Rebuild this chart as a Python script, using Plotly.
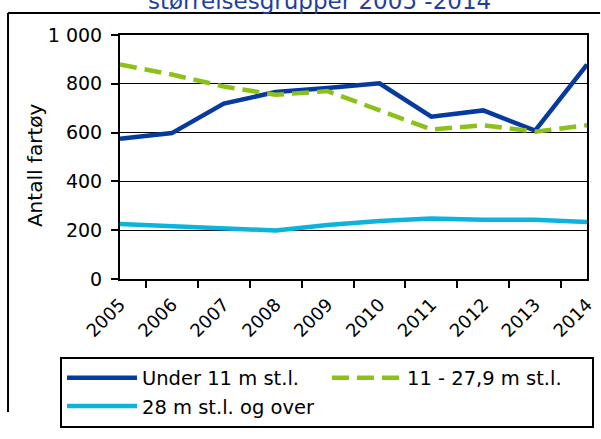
import plotly.graph_objects as go

years = ["2005", "2006", "2007", "2008", "2009", "2010", "2011", "2012", "2013", "2014"]
under_11 = [575, 598, 719, 766, 783, 802, 665, 691, 608, 879]
mid_11_279 = [879, 838, 789, 755, 770, 693, 613, 630, 604, 630]
over_28 = [225, 215, 206, 199, 221, 238, 248, 243, 243, 234]
names = ["Under 11 m st.l.", "11 - 27,9 m st.l.", "28 m st.l. og over"]
y_ticks = [0, 200, 400, 600, 800, 1000]
y_ticktext = ["0", "200", "400", "600", "800", "1 000"]
title_text = "størrelsesgrupper 2005 -2014"
y_title = "Antall fartøy"

FONT = "DejaVu Sans"

fig = go.Figure()
fig.add_trace(go.Scatter(x=years, y=under_11, name=names[0], mode="lines",
                         line=dict(color="#063A9C", width=4.5)))
fig.add_trace(go.Scatter(x=years, y=mid_11_279, name=names[1], mode="lines",
                         line=dict(color="#8CC11A", width=4.5, dash="17px,8px")))
fig.add_trace(go.Scatter(x=years, y=over_28, name=names[2], mode="lines",
                         line=dict(color="#0AB4DC", width=4.5)))

fig.update_layout(
    width=601, height=439,
    margin=dict(l=120, r=14, t=35, b=143),
    paper_bgcolor="white", plot_bgcolor="white",
    font=dict(family=FONT, size=19, color="black"),
    showlegend=True,
    legend=dict(orientation="h", x=-0.1285, y=-0.318, xanchor="left", yanchor="top",
                bordercolor="black", borderwidth=2, bgcolor="white",
                font=dict(family=FONT, size=19.5, color="black"),
                itemwidth=70, entrywidth=180, entrywidthmode="pixels", tracegroupgap=0),
)

fig.update_xaxes(type="category", tickson="boundaries", ticks="outside", ticklen=7,
                 tickwidth=2, tickcolor="black", tickangle=-45,
                 tickfont=dict(family=FONT, size=18, color="black"),
                 showline=True, linecolor="black", linewidth=2, mirror=True,
                 showgrid=False, ticklabelstandoff=6, automargin=False)
fig.update_yaxes(range=[0, 1000], tickvals=y_ticks, ticktext=y_ticktext,
                 ticks="outside", ticklen=7, tickwidth=2, tickcolor="black",
                 tickfont=dict(family=FONT, size=19, color="black"),
                 showline=True, linecolor="black", linewidth=2, mirror=True,
                 showgrid=True, gridcolor="black", gridwidth=1.3,
                 ticklabelstandoff=5, automargin=False, zeroline=False)

fig.add_annotation(text=title_text, xref="paper", yref="paper", x=0.428, y=1.14,
                   xanchor="center", yanchor="middle", showarrow=False,
                   font=dict(family=FONT, size=23, color="#1F3FA0"))
fig.add_annotation(text=y_title, xref="paper", yref="paper", x=-0.182, y=0.467,
                   xanchor="center", yanchor="middle", showarrow=False, textangle=-90,
                   font=dict(family=FONT, size=20, color="black"))
# outer chart frame (top and left edges visible in the reference)
fig.add_shape(type="line", xref="paper", yref="paper", x0=-0.2398, x1=1.028, y0=1.090, y1=1.090,
              line=dict(color="black", width=2))
fig.add_shape(type="line", xref="paper", yref="paper", x0=-0.2398, x1=-0.2398, y0=1.090, y1=-0.545,
              line=dict(color="black", width=2))

fig.write_html("out.html", config={"displayModeBar": False},
               post_script="document.body.style.margin='0';document.body.style.overflow='hidden';")
